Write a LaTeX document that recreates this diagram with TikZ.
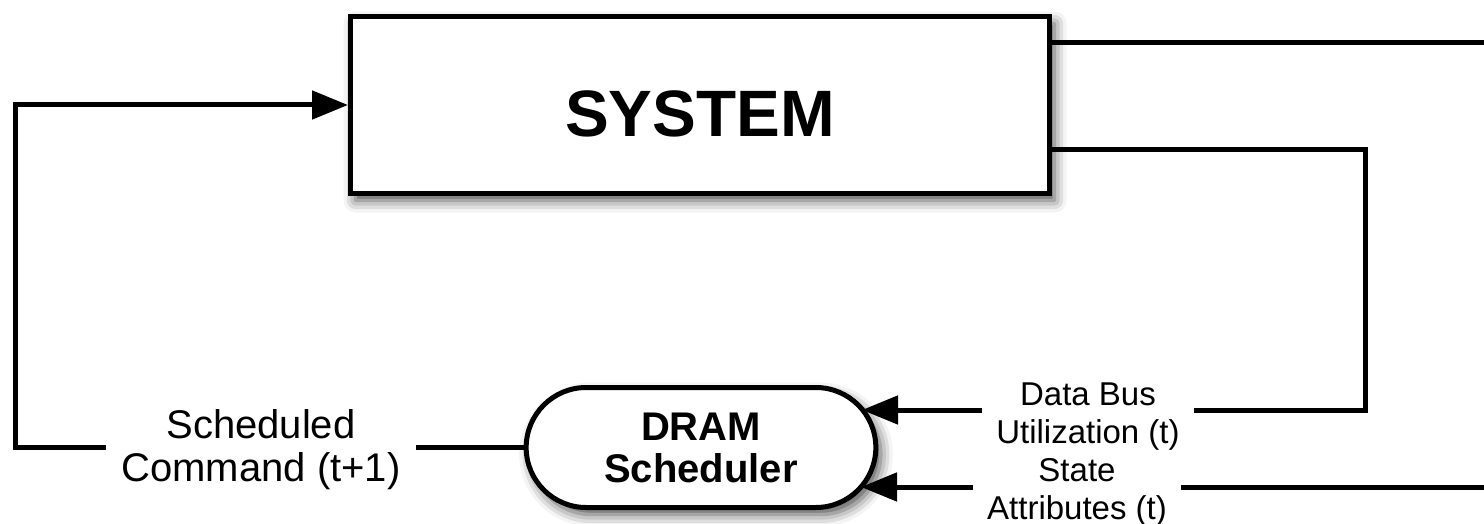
\documentclass[tikz,border=0pt]{standalone}
\usepackage{fontspec}
\setmainfont{Liberation Sans}
\usetikzlibrary{arrows.meta,shapes.misc,shadows.blur}
\begin{document}
\begin{tikzpicture}[x=0.5pt,y=-0.5pt,
  conn/.style={line width=2.5pt, line join=miter, draw=black},
  arr/.style={conn, -{Triangle[length=18pt,width=14pt]}},
  boxshadow/.style={blur shadow={shadow xshift=2.5pt, shadow yshift=-3.5pt, shadow blur radius=6pt, shadow opacity=70}},
  lbl/.style={align=center, inner xsep=7pt, inner ysep=0pt, fill=none},
  biglbl/.style={lbl, inner xsep=7.5pt, font=\fontsize{20}{21.5}\selectfont},
  smalllbl/.style={lbl, font=\fontsize{16.5}{19}\selectfont},
]
\useasboundingbox (0,0) rectangle (1484,524);

% SYSTEM box
\node[draw, line width=2.5pt, fill=white, boxshadow,
      minimum width=349.5pt, minimum height=88.5pt,
      font=\bfseries\fontsize{32.8}{36}\selectfont,
      text height=32pt, text depth=0pt] (sys) at (700,105) {SYSTEM};

% DRAM Scheduler
\node[draw, line width=2.5pt, fill=white, boxshadow, rounded rectangle,
      minimum width=181.5pt, minimum height=60pt, align=center,
      font=\bfseries\fontsize{20}{21}\selectfont] (sched) at (701,447.5) {DRAM\\Scheduler};

% labels
\node[biglbl] (cmd) at (261,450) {Scheduled\\Command (t+1)};
\node[smalllbl] (dbt) at (1088,417) {Data Bus\\Utilization (t)};
\node[smalllbl] (stt) at (1077,492) {State\\Attributes (t)};

% helper coordinates
\coordinate (lc) at (15,105);
\coordinate (dbc) at (1365,150);
\coordinate (dbtip) at (862,410);
\coordinate (sttip) at (861,487);
\coordinate (toprt) at (1484,43);
\coordinate (botrt) at (1484,487);

% Scheduled command feedback
\draw[conn] (cmd.east |- sched.west) -- (sched.west);
\draw[arr] (cmd.west |- sched.west) -| (lc) -- (sys.west);

% top output off to the right
\draw[conn] (sys.east |- toprt) -- (toprt);

% data bus utilization
\draw[conn] (sys.east |- dbc) -- (dbc) |- (dbt.east |- dbtip);
\draw[arr] (dbt.west |- dbtip) -- (dbtip);

% state attributes
\draw[conn] (botrt) -- (stt.east |- botrt);
\draw[arr] (stt.west |- sttip) -- (sttip);
\end{tikzpicture}
\end{document}
